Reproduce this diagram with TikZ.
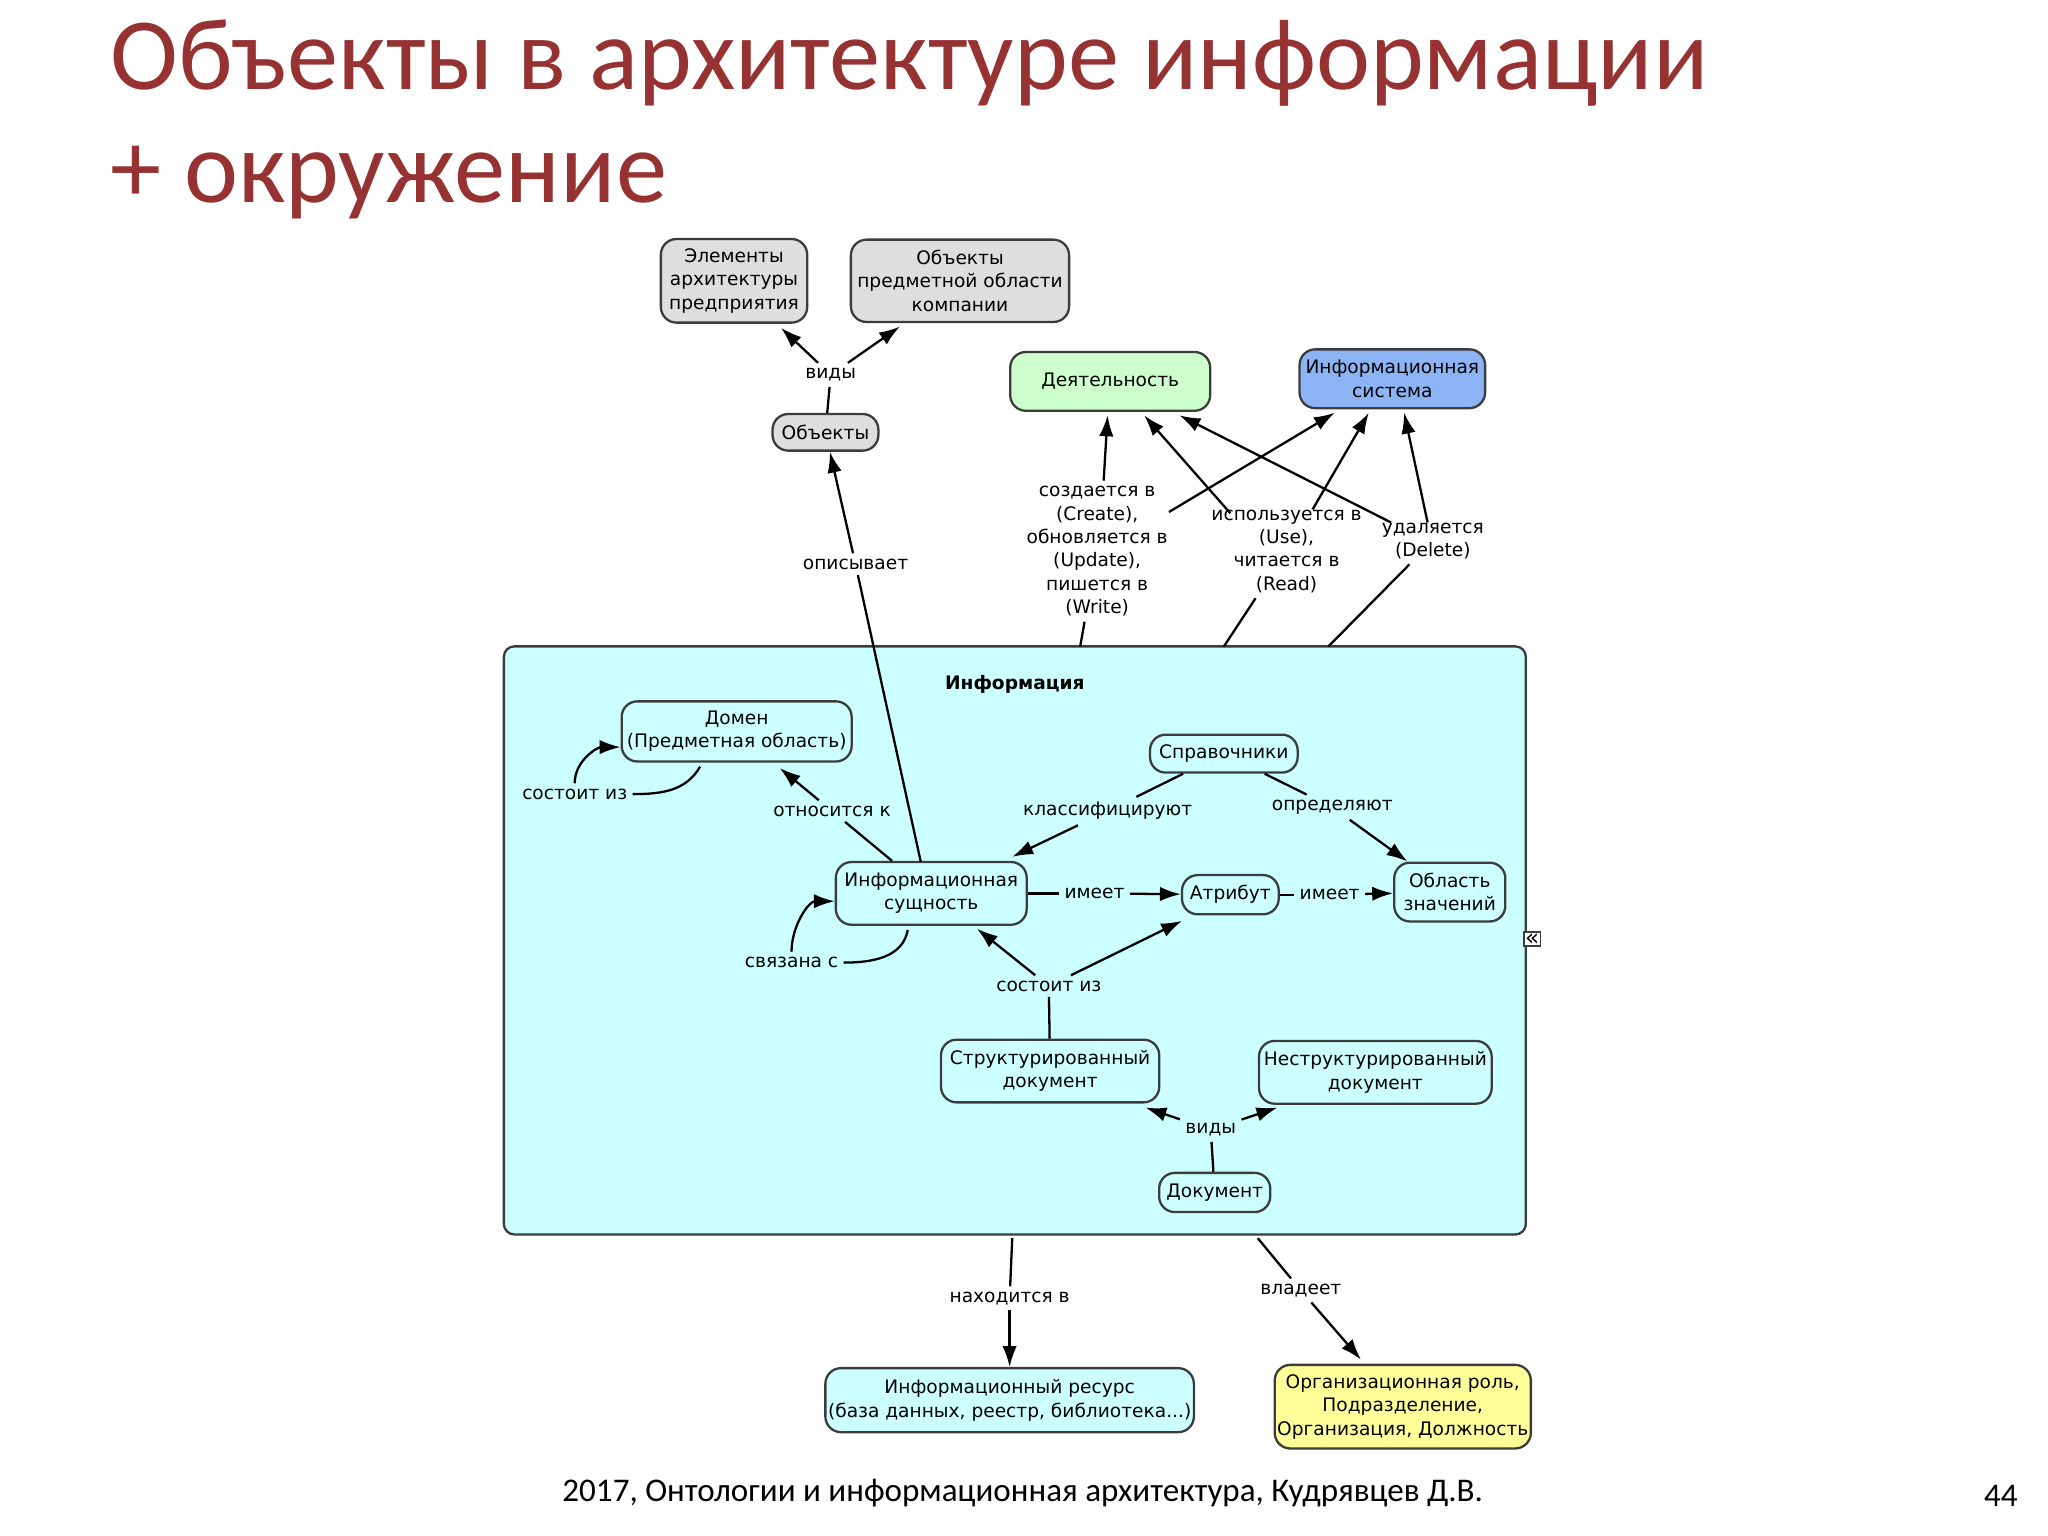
\documentclass[tikz,border=0pt]{standalone}
\usepackage{fontspec}
\setmainfont{Carlito}
\newfontfamily\dv{DejaVu Sans}
\usetikzlibrary{arrows.meta}
\definecolor{ttl}{RGB}{150,50,50}
\definecolor{bord}{RGB}{60,60,60}
\definecolor{gbox}{RGB}{222,222,222}
\definecolor{grn}{RGB}{204,255,204}
\definecolor{blu}{RGB}{140,180,245}
\definecolor{cyn}{RGB}{204,255,255}
\definecolor{yel}{RGB}{255,255,153}
\tikzset{
 box/.style={draw=bord,line width=0.5pt,rounded corners=1.2mm,align=center,inner sep=0pt,font=\dv\fontsize{4.05}{5.1}\selectfont},
 lbl/.style={align=center,inner sep=1pt,font=\dv\fontsize{4.05}{5.1}\selectfont},
 ln/.style={line width=0.5pt,black},
 ar/.style={line width=0.5pt,black,-{Latex[length=1.6mm,width=1.1mm]}}
}
\begin{document}
\begin{tikzpicture}[x=0.01cm,y=-0.01cm]
\useasboundingbox (0,0) rectangle (1568,1176);
\node[anchor=west,text=ttl,font=\fontsize{22.3}{26}\selectfont] (t1) at (72,48) {Объекты в архитектуре информации};
\node[anchor=west,text=ttl,font=\fontsize{22.3}{26}\selectfont] (t2) at (72,140) {+ окружение};
% info big box
\node[box,fill=cyn,rounded corners=0.8mm,minimum width=7.82cm,minimum height=4.5cm] (info) at (777,720) {};
\node[lbl,font=\dv\bfseries\fontsize{4.05}{5.1}\selectfont] (infot) at (777,524) {Информация};
% top nodes
\node[box,fill=gbox,minimum width=1.12cm,minimum height=0.64cm] (elem) at (562,215) {Элементы\\архитектуры\\предприятия};
\node[box,fill=gbox,minimum width=1.67cm,minimum height=0.63cm] (objp) at (735,215) {Объекты\\предметной области\\компании};
\node[lbl] (vid1) at (636,287) {виды};
\node[box,fill=gbox,minimum width=0.81cm,minimum height=0.28cm] (obj) at (632,331) {Объекты};
\node[box,fill=grn,minimum width=1.53cm,minimum height=0.45cm] (dey) at (850,292) {Деятельность};
\node[box,fill=blu,minimum width=1.42cm,minimum height=0.45cm] (is) at (1066,290) {Информационная\\система};
\node[lbl] (crl) at (840,422) {создается в\\(Create),\\обновляется в\\(Update),\\пишется в\\(Write)};
\node[lbl] (usl) at (985,422) {используется в\\(Use),\\читается в\\(Read)};
\node[lbl] (dell) at (1097,414) {удаляется\\(Delete)};
\node[lbl] (opis) at (655,432) {описывает};
\coordinate (c1) at (827,495);
\coordinate (c2) at (937,495);
\coordinate (c3) at (1017,495);
% inside
\node[box,fill=cyn,minimum width=1.76cm,minimum height=0.46cm] (dom) at (564,560) {Домен\\(Предметная область)};
\node[lbl] (sost1) at (440,608) {состоит из};
\node[box,fill=cyn,minimum width=1.13cm,minimum height=0.29cm] (spr) at (937,577) {Справочники};
\node[lbl] (otn) at (637,621) {относится к};
\node[lbl] (kls) at (848,621) {классифицируют};
\node[lbl] (opr) at (1020,618) {определяют};
\node[box,fill=cyn,minimum width=1.46cm,minimum height=0.48cm] (ie) at (713,684) {Информационная\\сущность};
\node[lbl] (im1) at (838,684) {имеет};
\node[box,fill=cyn,minimum width=0.74cm,minimum height=0.30cm] (atr) at (942,685) {Атрибут};
\node[lbl] (im2) at (1018,685) {имеет};
\node[box,fill=cyn,minimum width=0.85cm,minimum height=0.45cm] (obl) at (1110,683) {Область\\значений};
\node[lbl] (svz) at (606,737) {связана с};
\node[lbl] (sost2) at (803,755) {состоит из};
\node[box,fill=cyn,minimum width=1.67cm,minimum height=0.48cm] (str) at (804,820) {Структурированный\\документ};
\node[box,fill=cyn,minimum width=1.78cm,minimum height=0.48cm] (nstr) at (1053,821) {Неструктурированный\\документ};
\node[lbl] (vid2) at (927,865) {виды};
\node[box,fill=cyn,minimum width=0.85cm,minimum height=0.30cm] (doc) at (930,913) {Документ};
\node[draw=bord,line width=0.4pt,inner sep=0.3pt,font=\dv\fontsize{5}{5}\selectfont,fill=white] (ic) at (1173,719) {«};
% bottom
\node[lbl] (nah) at (773,994) {находится в};
\node[lbl] (vla) at (996,988) {владеет};
\node[box,fill=cyn,minimum width=2.82cm,minimum height=0.49cm] (res) at (773,1072) {Информационный ресурс\\(база данных, реестр, библиотека...)};
\node[box,fill=yel,minimum width=1.96cm,minimum height=0.64cm] (org) at (1074,1077) {Организационная роль,\\Подразделение,\\Организация, Должность};
\coordinate (b1) at (775,948);
\coordinate (b2) at (963,948);
\node[font=\fontsize{7.2}{8}\selectfont] (foot) at (783,1143) {2017, Онтологии и информационная архитектура, Кудрявцев Д.В.};
\node[font=\fontsize{7.2}{8}\selectfont] (pg) at (1532,1145) {44};
% edges
\draw[ln] (obj) -- (vid1);
\draw[ar] (vid1) -- (598,251);
\draw[ar] (vid1) -- (689,250);
\draw[ln] (705,660) -- (opis);
\draw[ar] (opis) -- (obj);
\draw[ln] (c1) -- (crl);
\draw[ar] (crl.north) ++(5,0) -- (848,318);
\draw[ar] (895,392) -- (1022,316);
\draw[ln] (c2) -- (usl);
\draw[ar] (1005,390) -- (1048,316);
\draw[ar] (942,393) -- (876,318);
\draw[ln] (c3) -- (dell);
\draw[ar] (1065,400) -- (903,318);
\draw[ar] (1093,400) -- (1075,316);
\draw[ln] (536,587) to[out=-120,in=0] (sost1.east);
\draw[ar] (sost1.north) to[out=90,in=180] (dom.west|-572,572);
\draw[ln] (ie) -- (otn);
\draw[ar] (otn) -- (597,588);
\draw[ln] (spr) -- (kls);
\draw[ar] (kls) -- (775,656);
\draw[ln] (spr) -- (opr);
\draw[ar] (opr) -- (obl);
\draw[ln] (ie) -- (im1);
\draw[ar] (im1) -- (atr);
\draw[ln] (atr) -- (im2);
\draw[ar] (im2) -- (obl);
\draw[ln] (695,712) to[out=-100,in=0] (svz.east);
\draw[ar] (svz.north) to[out=90,in=180] (ie.west|-690,690);
\draw[ln] (str) -- (sost2);
\draw[ar] (sost2) -- (748,711);
\draw[ar] (sost2) -- (905,705);
\draw[ln] (doc) -- (vid2);
\draw[ar] (vid2) -- (877,848);
\draw[ar] (vid2) -- (978,848);
\draw[ln] (b1) -- (nah);
\draw[ar] (nah) -- (res);
\draw[ln] (b2) -- (vla);
\draw[ar] (vla) -- (1042,1041);
\end{tikzpicture}
\end{document}
